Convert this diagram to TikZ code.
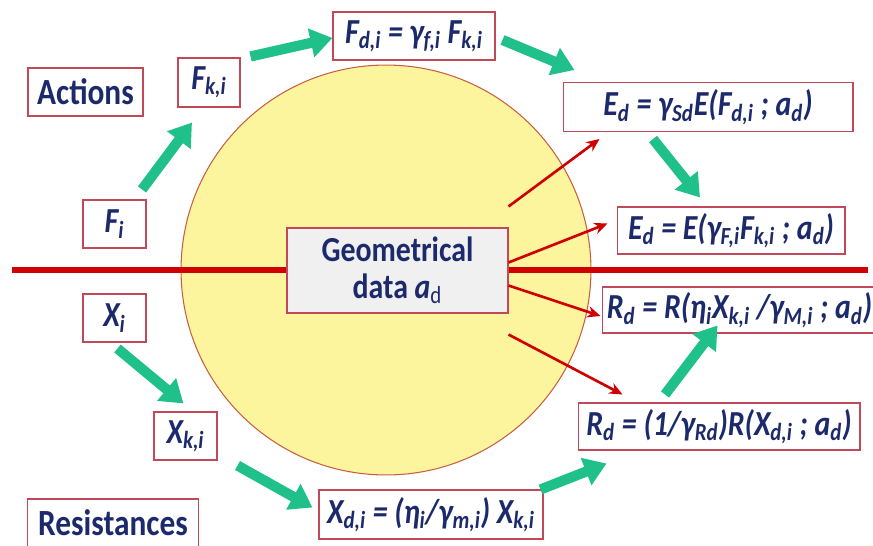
\documentclass[tikz,border=0pt]{standalone}
\usepackage{fontspec}
\setmainfont{Carlito}[FakeStretch=0.85]
\usepackage{xcolor}
\usepackage{tikz}
\usetikzlibrary{arrows.meta, calc}

\definecolor{navy}{RGB}{28,42,108}
\definecolor{boxline}{RGB}{192,72,88}
\definecolor{disc}{RGB}{252,245,158}
\definecolor{discline}{RGB}{200,96,64}
\definecolor{flow}{RGB}{32,192,138}
\definecolor{cut}{RGB}{208,0,0}
\definecolor{geofill}{RGB}{240,240,240}

\newcommand{\sbs}[1]{\textsubscript{#1}}

\begin{document}
\begin{tikzpicture}[x=0.02cm, y=-0.02cm,
    term/.style={draw=boxline, line width=0.6pt, fill=white, inner sep=0pt,
      text=navy, font=\fontsize{21}{24}\selectfont\bfseries},
    formula/.style={term, font=\fontsize{20}{22}\selectfont\bfseries\itshape},
    flowarrow/.style={draw=flow, line width=5.8pt,
      -{Triangle[length=12.5pt, width=16pt]}},
    dataarrow/.style={draw=cut, line width=1.5pt,
      -{Stealth[length=7.5pt, width=6.5pt]}}]
  \useasboundingbox (0,0) rectangle (873,545);

  % disc and cut line
  \node[circle, draw=discline, line width=0.6pt, fill=disc, minimum size=8.2cm]
      (disc) at (386,270) {};
  \coordinate (cutL) at (12,270);
  \coordinate (cutR) at (868,270);
  \draw[cut, line width=3.4pt] (cutL) -- (cutR);

  \node[term, fill=geofill, minimum width=4.42cm, minimum height=1.7cm, align=center,
      font=\fontsize{20}{21}\selectfont\bfseries]
      (geo) at (397.5,270.5) {Geometrical\\data \textit{a}{\mdseries\sbs{d}}};

  % actions side
  \node[term, minimum width=2.3cm, minimum height=0.96cm] (act) at (85.5,92) {Actions};
  \node[formula, minimum width=1.26cm, minimum height=0.96cm] (Fi) at (114.5,224) {F\sbs{i}};
  \node[formula, minimum width=1.24cm, minimum height=0.98cm] (Fki) at (209,82.5) {F\sbs{k,i}};
  \node[formula, minimum width=3.24cm, minimum height=0.96cm] (Fdi) at (414,36)
      {F\sbs{d,i} = γ\sbs{f,i} F\sbs{k,i}};
  \node[formula, minimum width=5.8cm, minimum height=0.98cm] (Ed1) at (708,107)
      {E\sbs{d} = γ\sbs{Sd}E(F\sbs{d,i} ; a\sbs{d})};
  \node[formula, minimum width=4.56cm, minimum height=0.94cm] (Ed2) at (731,230.5)
      {E\sbs{d} = E(γ\sbs{F,i}F\sbs{k,i} ; a\sbs{d})};

  % resistances side
  \node[term, minimum width=3.42cm, minimum height=0.96cm] (res) at (113,523) {Resistances};
  \node[formula, minimum width=1.26cm, minimum height=0.96cm] (Xi) at (114.5,318) {X\sbs{i}};
  \node[formula, minimum width=1.26cm, minimum height=0.96cm] (Xki) at (185.5,436) {X\sbs{k,i}};
  \node[formula, minimum width=4.48cm, minimum height=0.98cm] (Xdi) at (431,514.5)
      {X\sbs{d,i} = (η\sbs{i}/γ\sbs{m,i}) X\sbs{k,i}};
  \node[formula, minimum width=5.64cm, minimum height=0.94cm] (Rd2) at (719,426.5)
      {R\sbs{d} = (1/γ\sbs{Rd})R(X\sbs{d,i} ; a\sbs{d})};
  \node[formula, minimum width=5.5cm, minimum height=0.92cm] (Rd1) at (739.5,310)
      {R\sbs{d} = R(η\sbs{i}X\sbs{k,i} /γ\sbs{M,i} ; a\sbs{d})};

  % green flow
  \draw[flowarrow] ($(Fi.north)+(27.5,-10)$) -- ($(Fki.south)+(-17,15)$);
  \draw[flowarrow] ($(Fki.north east)+(10,-1)$) -- ($(Fdi.west)+(0,2)$);
  \draw[flowarrow] ($(Fdi.east)+(7,4)$) -- ($(Ed1.north west)+(12,-12)$);
  \draw[flowarrow] ($(Ed1.south)+(-55,7)$) -- ($(Ed2.north)+(-31,-9)$);
  \draw[flowarrow] ($(Xi.south)+(3,6)$) -- ($(Xki.north)+(-2,-8)$);
  \draw[flowarrow] ($(Xki.south east)+(20,5)$) -- ($(Xdi.west)+(-6,-7)$);
  \draw[flowarrow] ($(Xdi.north east)+(-3,0)$) -- ($(Rd2.south west)+(29,13)$);
  \draw[flowarrow] ($(Rd2.north)+(-54,-8)$) -- ($(Rd1.south)+(-22,-8)$);

  % red data arrows
  \draw[dataarrow] ($(geo.north east)+(0,-21)$) -- ($(Ed1.south west)+(37,7)$);
  \draw[dataarrow] ($(geo.east)+(0,-8)$) -- ($(Ed2.west)+(-9,-7)$);
  \draw[dataarrow] ($(geo.east)+(0,15)$) -- ($(Rd1.west)+(-1,6)$);
  \draw[dataarrow] ($(geo.south east)+(0,21)$) -- ($(Rd2.north west)+(45,-8)$);
\end{tikzpicture}
\end{document}
